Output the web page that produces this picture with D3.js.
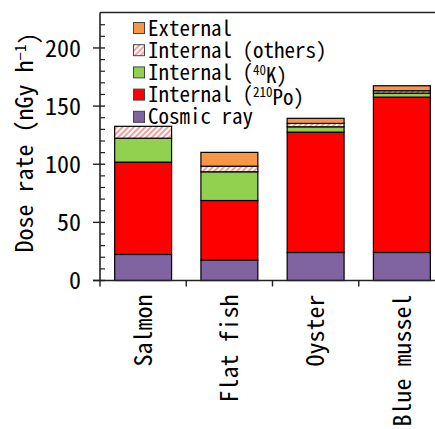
<!DOCTYPE html>
<html>
<head>
<meta charset="utf-8">
<script src="https://cdn.jsdelivr.net/npm/d3@7"></script>
<style>
  body { margin: 0; background: #fff; }
  svg text { font-family: "Noto Sans Mono CJK JP", "Liberation Mono", monospace; fill: #000; }
</style>
</head>
<body>
<div id="chart"></div>
<script>
// data (nGy/h)
const species = ["Salmon", "Flat fish", "Oyster", "Blue mussel"]
const cosmic = [22.4, 17.5, 24.1, 24.1]
const po210 = [79.4, 51.3, 103.5, 133.6]
const k40 = [20.6, 24.7, 4.6, 3.5]
const others = [10.2, 4.8, 2.9, 2.0]
const external = [0, 11.9, 4.4, 4.3]

const layers = ["cosmic", "po210", "k40", "others", "external"]
const colors = { cosmic: "#8064A2", po210: "#FF0000", k40: "#92D050", others: "url(#hatch)", external: "#F79646" }
const yTicks = [0, 50, 100, 150, 200]

const W = 435, H = 429
const margin = { top: 12.5, right: -10, bottom: 148.5, left: 100 },
    width = W - margin.left - margin.right,
    height = H - margin.top - margin.bottom;

const table = species.map((s, i) => ({
    name: s, cosmic: cosmic[i], po210: po210[i], k40: k40[i], others: others[i], external: external[i]
}))
const stacked = d3.stack().keys(layers)(table)

const svg = d3.select("#chart").append("svg")
    .attr("width", W).attr("height", H)

const defs = svg.append("defs")
const pat = defs.append("pattern")
    .attr("id", "hatch")
    .attr("patternUnits", "userSpaceOnUse")
    .attr("width", 4).attr("height", 4)
    .attr("patternTransform", "rotate(45)")
pat.append("rect").attr("width", 4).attr("height", 4).attr("fill", "#fff")
pat.append("rect").attr("width", 2).attr("height", 4).attr("fill", "#F5A0A0")

const g = svg.append("g").attr("transform", `translate(${margin.left},${margin.top})`)

const x = d3.scaleBand().domain(species).range([0, width]).paddingInner(0.34).paddingOuter(0.17)
const y = d3.scaleLinear().domain([0, 230.5]).range([height, 0])

// bars
g.selectAll("g.layer")
    .data(stacked)
    .join("g")
    .attr("class", "layer")
    .attr("fill", d => colors[d.key])
    .selectAll("rect")
    .data(d => d.filter(p => p[1] - p[0] > 0))
    .join("rect")
    .attr("x", d => x(d.data.name))
    .attr("width", x.bandwidth())
    .attr("y", d => y(d[1]))
    .attr("height", d => y(d[0]) - y(d[1]))
    .attr("stroke", "#000")
    .attr("stroke-width", 1.2)

// y axis: major ticks crossing, minor inside
const yAxis = g.append("g")
yAxis.append("line").attr("x1", 0).attr("x2", 0).attr("y1", 0).attr("y2", height)
    .attr("stroke", "#222").attr("stroke-width", 1.6)
yAxis.selectAll("line.minor")
    .data(d3.range(10, 230, 10).filter(v => v % 50 !== 0))
    .join("line")
    .attr("class", "minor")
    .attr("x1", 0).attr("x2", 5)
    .attr("y1", d => y(d)).attr("y2", d => y(d))
    .attr("stroke", "#222").attr("stroke-width", 1.2)
yAxis.selectAll("line.major")
    .data(yTicks)
    .join("line")
    .attr("class", "major")
    .attr("x1", -7).attr("x2", 5)
    .attr("y1", d => y(d)).attr("y2", d => y(d))
    .attr("stroke", "#222").attr("stroke-width", 1.4)
yAxis.selectAll("text")
    .data(yTicks)
    .join("text")
    .attr("x", -19)
    .attr("y", d => y(d))
    .attr("dy", "0.36em")
    .attr("text-anchor", "end")
    .style("font-size", "24px")
    .text(d => d)

// x axis line + ticks at band edges
g.append("line").attr("x1", -7).attr("x2", width).attr("y1", height).attr("y2", height)
    .attr("stroke", "#222").attr("stroke-width", 1.6)
const step = x.step()
g.selectAll("line.xtick")
    .data(d3.range(0, species.length + 1))
    .join("line")
    .attr("class", "xtick")
    .attr("x1", i => i * step).attr("x2", i => i * step)
    .attr("y1", height).attr("y2", height + 6)
    .attr("stroke", "#222").attr("stroke-width", 1.4)

// top frame
g.append("line").attr("x1", 0).attr("x2", width).attr("y1", 0).attr("y2", 0)
    .attr("stroke", "#222").attr("stroke-width", 1.6)

// category labels, rotated
g.selectAll("text.cat")
    .data(species)
    .join("text")
    .attr("class", "cat")
    .attr("transform", d => `translate(${x(d) + x.bandwidth() / 2},${height + 14}) rotate(-90)`)
    .attr("dy", "0.36em")
    .attr("text-anchor", "end")
    .style("font-size", "24px")
    .text(d => d)

// y title
const yt = svg.append("text")
    .attr("transform", `translate(24,${margin.top + height / 2 - 4}) rotate(-90)`)
    .attr("text-anchor", "middle")
    .attr("dy", "0.36em")
    .style("font-size", "24px")
yt.append("tspan").text("Dose rate (nGy h")
yt.append("tspan").attr("dy", "-0.45em").style("font-size", "15px").text("−1")
yt.append("tspan").attr("dy", "0.45em").text(")")

// legend
const legendItems = [
    { key: "external", parts: [["External"]] },
    { key: "others", parts: [["Internal (others)"]] },
    { key: "k40", parts: [["Internal ("], ["40", "sup"], ["K)"]] },
    { key: "po210", parts: [["Internal ("], ["210", "sup"], ["Po)"]] },
    { key: "cosmic", parts: [["Cosmic ray"]] }
]
const legend = svg.append("g").attr("transform", "translate(133,28)")
const li = legend.selectAll("g")
    .data(legendItems)
    .join("g")
    .attr("transform", (d, i) => `translate(0,${i * 22.2})`)
li.append("rect")
    .attr("x", 0.5).attr("y", -5.5)
    .attr("width", 11).attr("height", 11)
    .attr("fill", d => colors[d.key])
    .attr("stroke", "#444").attr("stroke-width", 1)
li.append("text")
    .attr("x", 15)
    .attr("dy", "0.36em")
    .style("font-size", "21px")
    .each(function (d) {
        const t = d3.select(this)
        d.parts.forEach(p => {
            if (p[1] === "sup") {
                t.append("tspan").attr("dy", "-0.4em").style("font-size", "13px").text(p[0])
            } else {
                const s = t.append("tspan").text(p[0])
                if (t.selectAll("tspan").size() > 1) s.attr("dy", "0.4em")
            }
        })
    })
</script>
</body>
</html>
